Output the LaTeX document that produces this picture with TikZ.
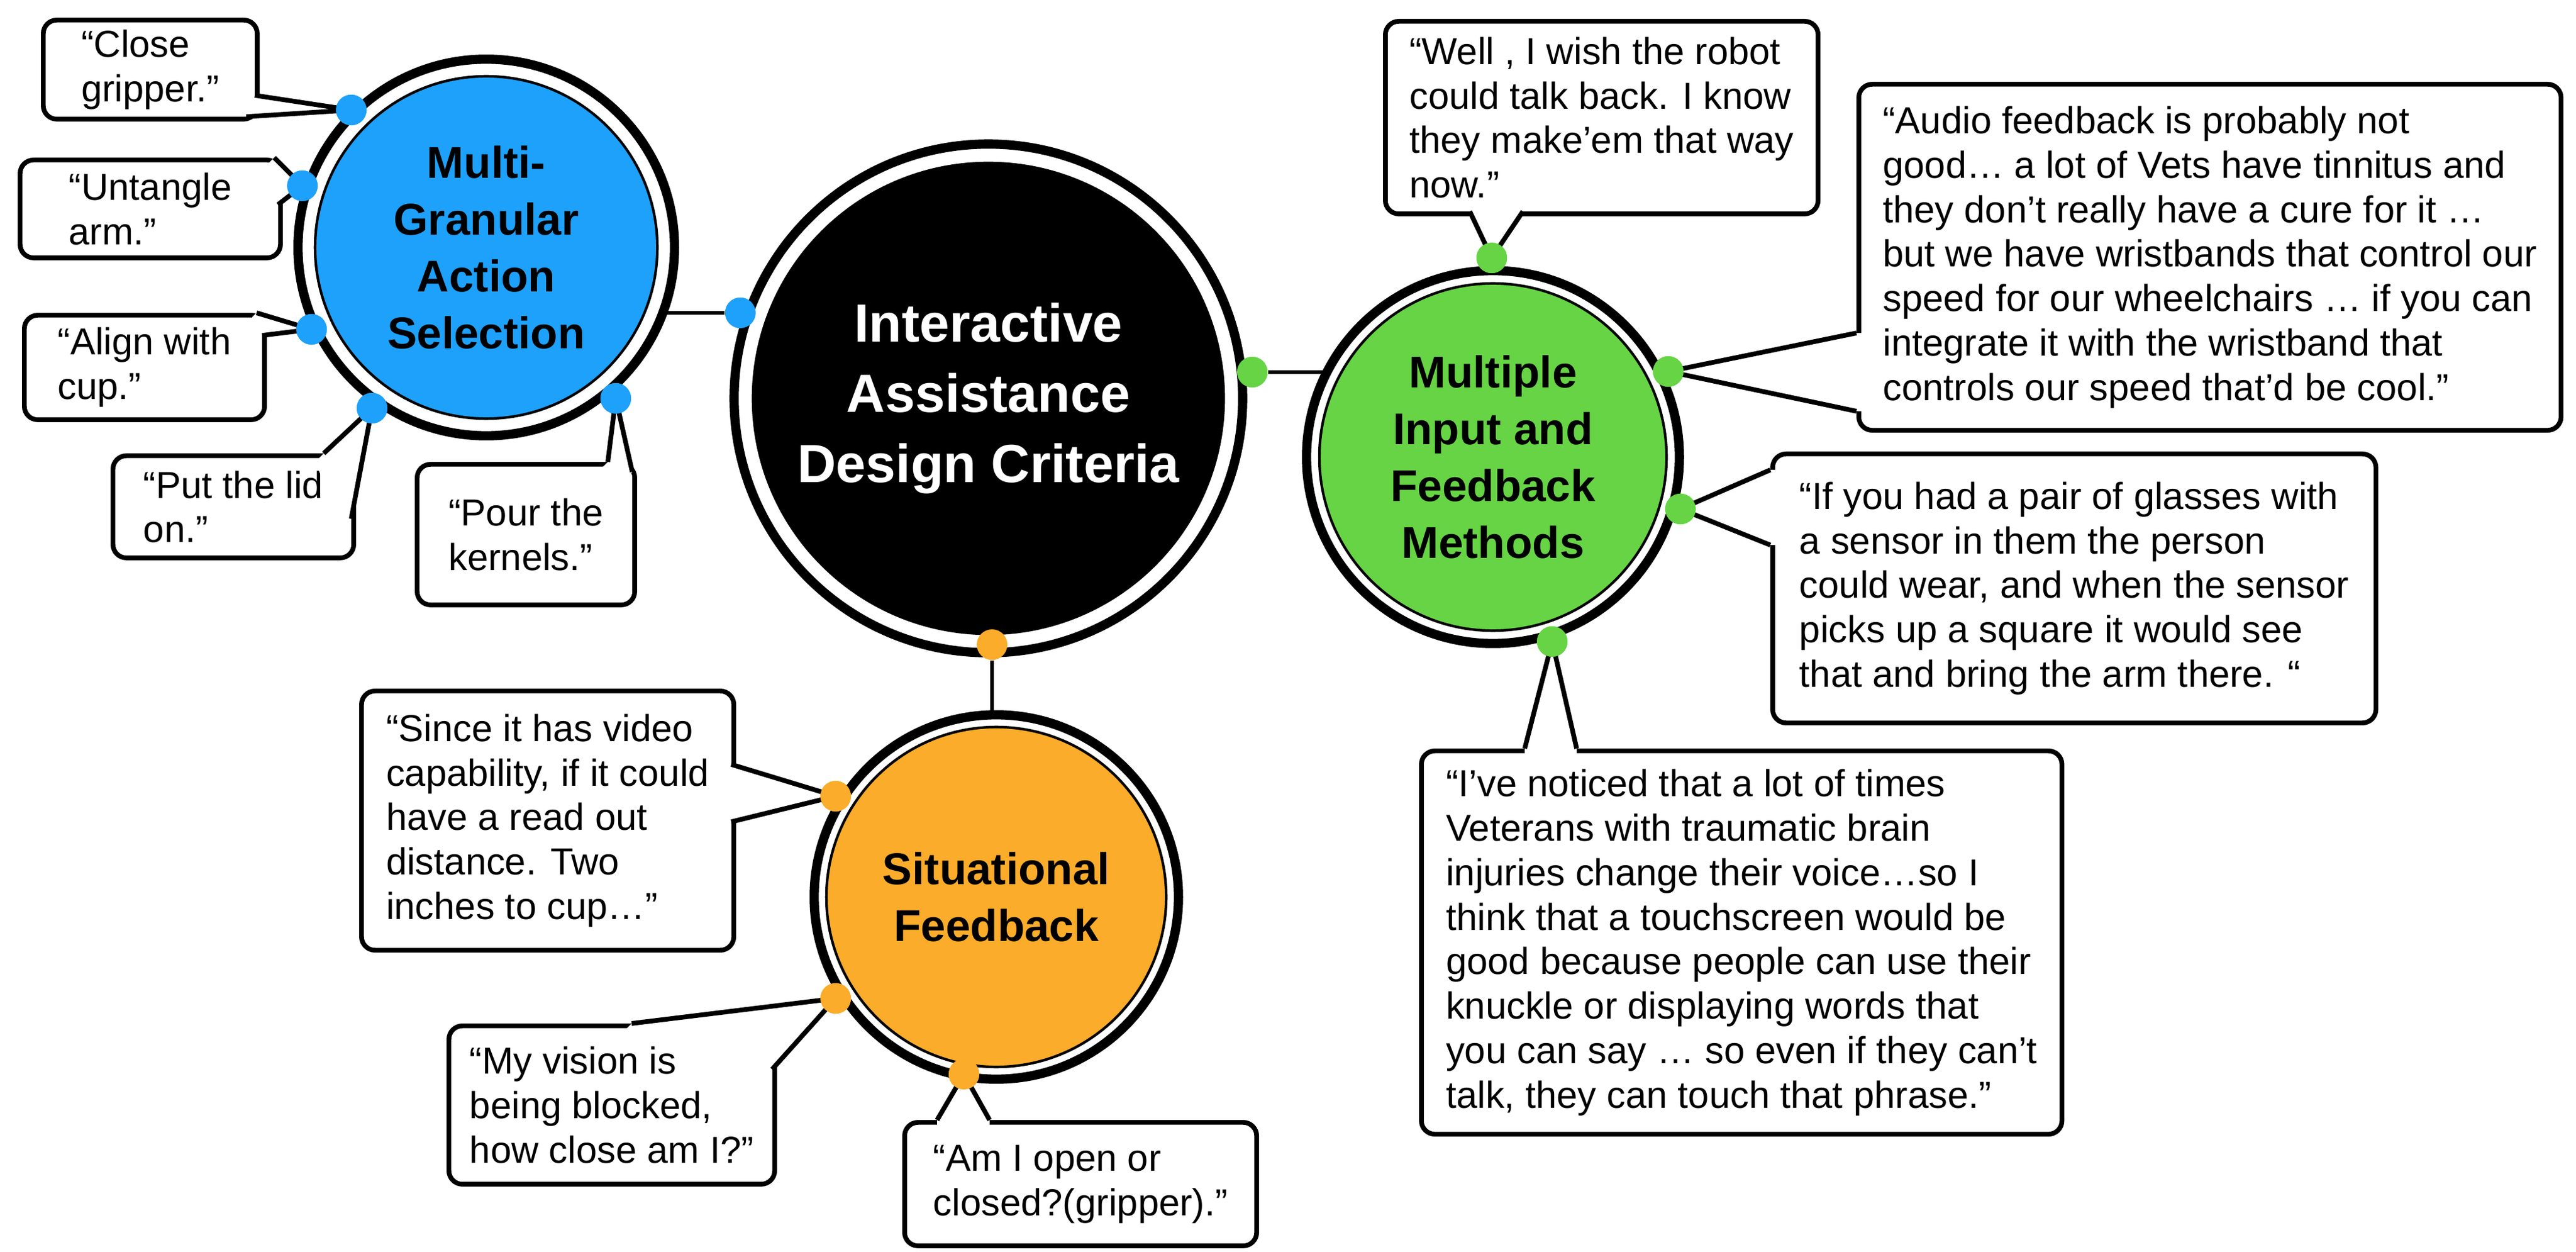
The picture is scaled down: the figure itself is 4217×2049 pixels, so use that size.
\documentclass[tikz,border=0pt]{standalone}
\usepackage{fontspec}
\setmainfont{Liberation Sans}
\usetikzlibrary{calc}
\definecolor{hubblue}{RGB}{29,161,250}
\definecolor{hubgreen}{RGB}{102,212,68}
\definecolor{huborange}{RGB}{250,172,42}
\tikzset{
  hub/.style={circle, fill=#1, draw=black, line width=1.2pt, inner sep=0pt, align=center,
    font=\bfseries\fontsize{20.7}{26.4}\selectfont},
  ring/.style={draw=black, fill=white, line width=4.3pt},
  link/.style={draw=black, line width=1.7pt},
  quote/.style={draw=black, fill=white, line width=2.2pt, rounded corners=0.22cm, anchor=north west,
    align=left, inner sep=0pt, font=\fontsize{17.5}{20.7}\selectfont},
  tail/.style={draw=black, line width=2.2pt, line join=round},
  dot/.style={circle, fill=#1, inner sep=0pt, minimum size=0.5cm}
}
\newcommand{\calltail}[5]{%
  \fill[white] ($(#1)+(#4,#5)$) -- (#1) -- (#2.center) -- (#3) -- ($(#3)+(#4,#5)$) -- cycle;
  \draw[tail] (#1) -- (#2.center) -- (#3);}
\begin{document}
\begin{tikzpicture}[x=0.01cm, y=-0.01cm]
  \useasboundingbox (0,0) rectangle (4217,2049);

  % dots
  \node[dot=hubblue] (bc) at (1212,512) {};
  \node[dot=hubgreen] (gc) at (2050,609) {};
  \node[dot=huborange] (oc) at (1624,1055) {};

  % links between hubs
  \coordinate (Cc) at (1618,652);
  \coordinate (Bc) at (796,405);
  \coordinate (Gc) at (2444,748);
  \coordinate (Oc) at (1631,1468);
  \draw[link] (bc) -- (bc -| Bc);
  \draw[link] (gc) -- (gc -| Gc);
  \draw[link] (oc) -- (oc |- Oc);

  % hubs
  \draw[ring] (Cc) circle (4.16cm);
  \node[hub=black, minimum size=7.7cm, text=white, font=\bfseries\fontsize{25}{32.7}\selectfont]
    (C) at (Cc) {Interactive\\Assistance\\Design Criteria};
  \draw[ring] (Bc) circle (3.08cm);
  \node[hub=hubblue, minimum size=5.6cm] (B) at (Bc) {Multi-\\Granular\\Action\\Selection};
  \draw[ring] (Gc) circle (3.05cm);
  \node[hub=hubgreen, minimum size=5.68cm] (G) at (Gc) {Multiple\\Input and\\Feedback\\Methods};
  \draw[ring] (Oc) circle (2.98cm);
  \node[hub=huborange, minimum size=5.56cm] (O) at (Oc) {Situational\\Feedback};

  % quotes
  \node[quote, minimum width=3.50cm, minimum height=1.62cm] (q1) at (67,29) {“Close\\gripper.”};
  \node[quote, minimum width=4.26cm, minimum height=1.60cm] (q2) at (29,258) {“Untangle\\arm.”};
  \node[quote, minimum width=3.93cm, minimum height=1.71cm] (q3) at (36,512) {“Align with\\cup.”};
  \node[quote, minimum width=3.94cm, minimum height=1.67cm] (q4) at (181,742) {“Put the lid\\on."};
  \node[quote, minimum width=3.56cm, minimum height=2.30cm] (q5) at (679,756) {“Pour the\\kernels."};
  \node[quote, minimum width=7.08cm, minimum height=3.15cm] (q6) at (2264,31)
    {“Well , I wish the robot\\could talk back. I know\\they make'em that way\\now.”};
  \node[quote, minimum width=11.49cm, minimum height=5.66cm] (q7) at (3039,134)
    {“Audio feedback is probably not\\good… a lot of Vets have tinnitus and\\they don't really have a cure for it …\\but we have wristbands that control our\\speed for our wheelchairs … if you can\\integrate it with the wristband that\\controls our speed that'd be cool."};
  \node[quote, minimum width=9.87cm, minimum height=4.40cm] (q8) at (2898,739)
    {“If you had a pair of glasses with\\a sensor in them the person\\could wear, and when the sensor\\picks up a square it would see\\that and bring the arm there. “};
  \node[quote, minimum width=10.48cm, minimum height=6.27cm] (q9) at (2323,1225)
    {“I've noticed that a lot of times\\Veterans with traumatic brain\\injuries change their voice…so I\\think that a touchscreen would be\\good because people can use their\\knuckle or displaying words that\\you can say … so even if they can't\\talk, they can touch that phrase."};
  \node[quote, minimum width=6.09cm, minimum height=4.24cm] (q10) at (588,1127)
    {“Since it has video\\capability, if it could\\have a read out\\distance. Two\\inches to cup…”};
  \node[quote, minimum width=5.33cm, minimum height=2.59cm] (q11) at (731,1675)
    {“My vision is\\being blocked,\\how close am I?”};
  \node[quote, minimum width=5.76cm, minimum height=2.02cm] (q12) at (1477,1833)
    {“Am I open or\\closed?(gripper).”};

  % quote dots
  \node[dot=hubblue] (b1) at (575,180) {};
  \node[dot=hubblue] (b2) at (495,304) {};
  \node[dot=hubblue] (b3) at (510,539) {};
  \node[dot=hubblue] (b4) at (609,668) {};
  \node[dot=hubblue] (b5) at (1008,652) {};
  \node[dot=hubgreen] (g1) at (2442,422) {};
  \node[dot=hubgreen] (g2) at (2731,608) {};
  \node[dot=hubgreen] (g3) at (2751,833) {};
  \node[dot=hubgreen] (g4) at (2541,1050) {};
  \node[dot=huborange] (o1) at (1368,1303) {};
  \node[dot=huborange] (o2) at (1368,1634) {};
  \node[dot=huborange] (o3) at (1578,1758) {};

  % tails
  \calltail{417,156}{b1}{403,191}{-14}{-14}
  \calltail{449,258}{b2}{455,335}{-14}{14}
  \calltail{420,512}{b3}{429,549}{-14}{14}
  \calltail{530,742}{b4}{575,849}{-14}{14}
  \calltail{995,756}{b5}{1035,772}{-14}{14}
  \calltail{2406,346}{g1}{2493,346}{0}{-14}
  \calltail{3039,545}{g2}{3039,673}{14}{0}
  \calltail{2898,769}{g3}{2898,892}{14}{0}
  \calltail{2496,1225}{g4}{2581,1225}{0}{14}
  \calltail{1197,1251}{o1}{1197,1345}{-14}{0}
  \calltail{1034,1675}{o2}{1264,1750}{-14}{14}
  \calltail{1534,1833}{o3}{1620,1833}{0}{14}

  % redraw dots above tails
  \foreach \d/\c in {b1/hubblue,b2/hubblue,b3/hubblue,b4/hubblue,b5/hubblue,
      g1/hubgreen,g2/hubgreen,g3/hubgreen,g4/hubgreen,o1/huborange,o2/huborange,o3/huborange,
      bc/hubblue,gc/hubgreen,oc/huborange}
    \fill[\c] (\d) circle (0.25cm);
\end{tikzpicture}
\end{document}
